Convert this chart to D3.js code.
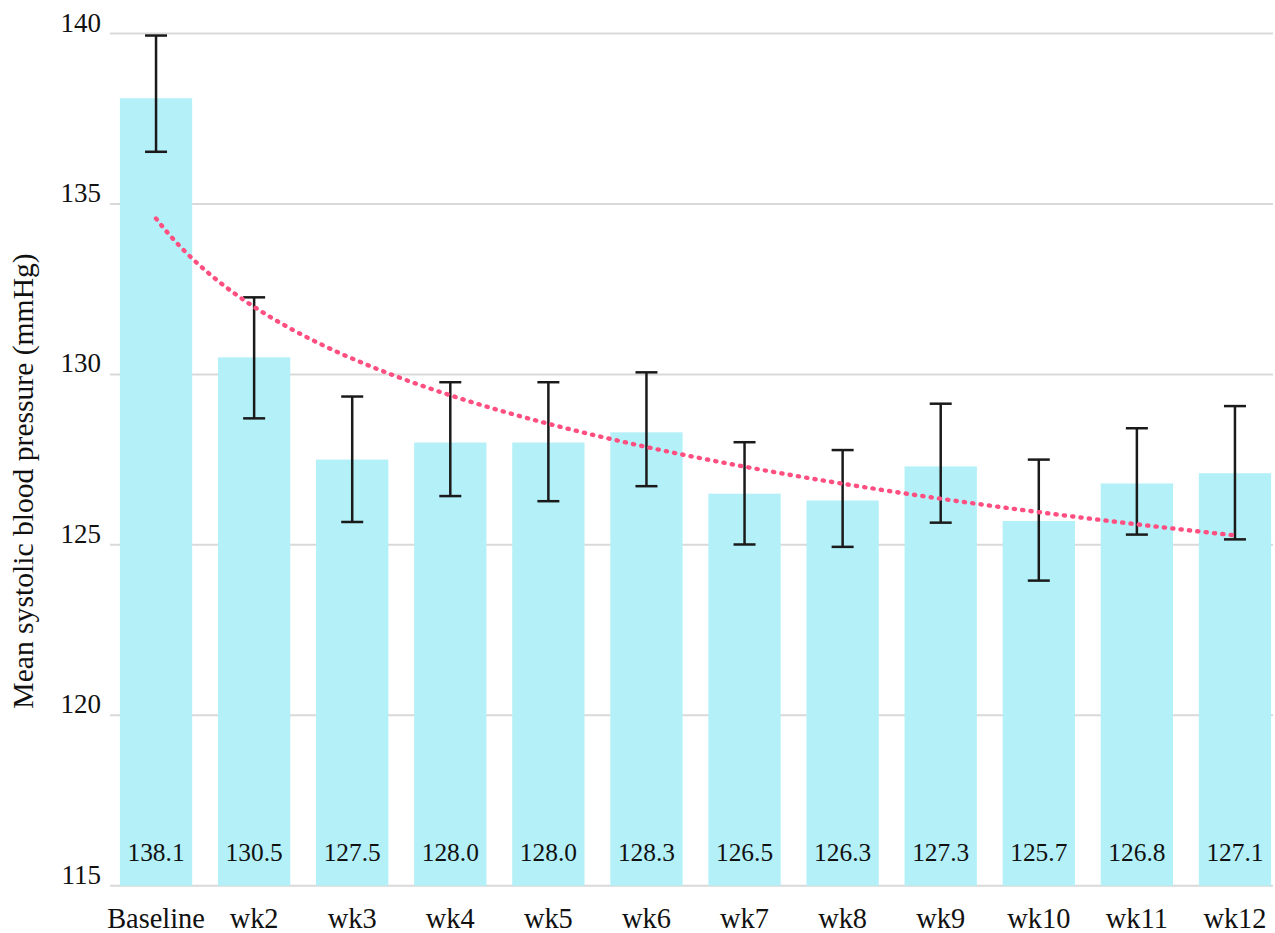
<!DOCTYPE html>
<html><head><meta charset="utf-8">
<script src="https://cdn.jsdelivr.net/npm/d3@7"></script>
<style>html,body{margin:0;padding:0;background:#fff;}</style>
</head><body>
<svg id="c" width="1275" height="933"></svg>
<script>
const categories = ["Baseline","wk2","wk3","wk4","wk5","wk6","wk7","wk8","wk9","wk10","wk11","wk12"];
const means = [138.1,130.5,127.5,128.0,128.0,128.3,126.5,126.3,127.3,125.7,126.8,127.1];
const errLower = [136.53,128.71,125.67,126.43,126.28,126.72,125.01,124.94,125.65,123.95,125.30,125.16];
const errUpper = [139.94,132.26,129.35,129.77,129.77,130.06,128.01,127.78,129.14,127.50,128.42,129.07];
const yTicks = [115,120,125,130,135,140];
const yTitle = "Mean systolic blood pressure (mmHg)";

const FONT = "'Liberation Serif', 'DejaVu Serif', serif";
const svg = d3.select("#c").attr("font-family", FONT);
const x = d3.scaleBand().domain(categories).range([107, 1284]).paddingInner(0.263).paddingOuter(0.1315);
const y = d3.scaleLinear().domain([115,140]).range([885.7, 33.5]);

// gridlines
svg.append("g").selectAll("line").data(yTicks).join("line")
  .attr("x1",110).attr("x2",1273)
  .attr("y1",d=>y(d)).attr("y2",d=>y(d))
  .attr("stroke","#d9d9d9").attr("stroke-width",2);

// y tick labels
svg.append("g").selectAll("text").data(yTicks).join("text")
  .attr("x",101).attr("y",d=>y(d)-2).attr("font-family",FONT)
  .attr("text-anchor","end").attr("font-size",27).attr("fill","#111")
  .text(d=>d);

// bars
svg.append("g").selectAll("rect").data(categories).join("rect")
  .attr("x",d=>x(d)).attr("width",x.bandwidth())
  .attr("y",(d,i)=>y(means[i])).attr("height",(d,i)=>y(115)-y(means[i]))
  .attr("fill","#b3f0f8");

// bar value labels
svg.append("g").selectAll("text").data(categories).join("text")
  .attr("x",d=>x(d)+x.bandwidth()/2).attr("y",861).attr("font-family",FONT)
  .attr("text-anchor","middle").attr("font-size",25.4).attr("fill","#111")
  .text((d,i)=>means[i].toFixed(1));

// x labels
svg.append("g").selectAll("text").data(categories).join("text")
  .attr("x",d=>x(d)+x.bandwidth()/2).attr("y",928).attr("font-family",FONT)
  .attr("text-anchor","middle").attr("font-size",28.4).attr("fill","#111")
  .text(d=>d);

// error bars
const eg = svg.append("g").attr("stroke","#1a1a1a").attr("stroke-width",2.5);
categories.forEach((c,i)=>{
  const cx = x(c)+x.bandwidth()/2;
  eg.append("line").attr("x1",cx).attr("x2",cx).attr("y1",y(errLower[i])).attr("y2",y(errUpper[i]));
  eg.append("line").attr("x1",cx-11).attr("x2",cx+11).attr("y1",y(errLower[i])).attr("y2",y(errLower[i]));
  eg.append("line").attr("x1",cx-11).attr("x2",cx+11).attr("y1",y(errUpper[i])).attr("y2",y(errUpper[i]));
});

// logarithmic trendline fitted to means
const lx = means.map((d,i)=>Math.log(i+1));
const mx = d3.mean(lx), my = d3.mean(means);
const b = d3.sum(lx.map((v,i)=>(v-mx)*(means[i]-my))) / d3.sum(lx.map(v=>(v-mx)*(v-mx)));
const a = my - b*mx;
const step = x.step();
const x0 = x(categories[0])+x.bandwidth()/2;
const pts = d3.range(1, 12.001, 0.05).map(t=>[x0+(t-1)*step, y(a+b*Math.log(t))]);
svg.append("path").attr("d",d3.line()(pts))
  .attr("fill","none").attr("stroke","#ff4f80").attr("stroke-width",4.4)
  .attr("stroke-linecap","round").attr("stroke-dasharray","1.2,7.2");

// y title
svg.append("text").attr("transform","translate(33,481) rotate(-90)").attr("font-family",FONT)
  .attr("text-anchor","middle").attr("font-size",29.6).attr("fill","#111")
  .text(yTitle);
</script>
</body></html>
